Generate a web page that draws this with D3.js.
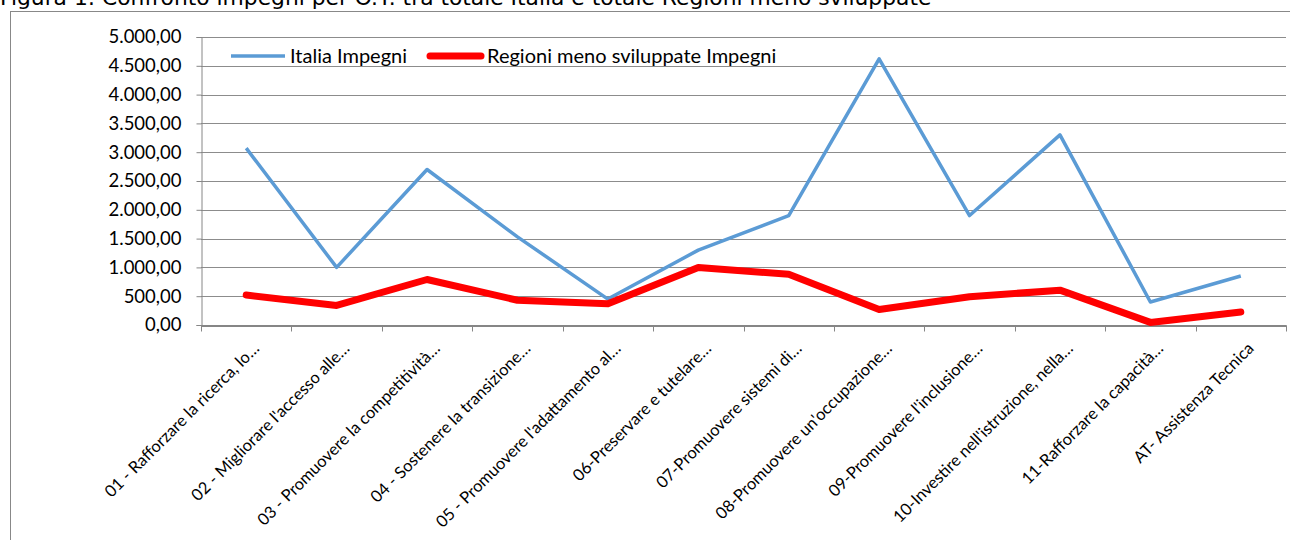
<!DOCTYPE html>
<html>
<head>
<meta charset="utf-8">
<script src="https://cdn.jsdelivr.net/npm/d3@7"></script>
<style>
  body { margin: 0; background: #fff; }
  svg { display: block; }
  .axis path, .axis line { stroke: #868686; }
  .axis text { font-family: Lato, "Open Sans", sans-serif; fill: #000; }
</style>
</head>
<body>
<div id="chart"></div>
<script>
const categories = [
  "01 - Rafforzare la ricerca, lo…",
  "02 - Migliorare l'accesso alle…",
  "03 - Promuovere la competitività…",
  "04 - Sostenere la transizione…",
  "05 - Promuovere l'adattamento al…",
  "06-Preservare e tutelare…",
  "07-Promuovere sistemi di…",
  "08-Promuovere un'occupazione…",
  "09-Promuovere l'inclusione…",
  "10-Investire nell'istruzione, nella…",
  "11-Rafforzare la capacità…",
  "AT- Assistenza Tecnica"
];
const italia = [3070, 1000, 2700, 1530, 450, 1300, 1900, 4620, 1900, 3300, 400, 850];
const regioni = [520, 340, 790, 430, 370, 1000, 880, 270, 490, 605, 45, 225];
const yTicks = [0, 500, 1000, 1500, 2000, 2500, 3000, 3500, 4000, 4500, 5000];
const seriesNames = ["Italia Impegni", "Regioni meno sviluppate Impegni"];
const title = "Figura 1: Confronto impegni per O.T. tra totale Italia e totale Regioni meno sviluppate";

const W = 1290, H = 540;
const svg = d3.select('#chart').append('svg').attr('width', W).attr('height', H);

// title (its top is cut off in the source picture)
svg.append('text')
  .attr('x', 0).attr('y', 5)
  .attr('font-family', '"DejaVu Sans", Verdana, sans-serif')
  .attr('font-size', 21.8)
  .text(title);

// chart frame
svg.append('rect')
  .attr('x', 10.5).attr('y', 11.5)
  .attr('width', W).attr('height', H)
  .attr('fill', 'none').attr('stroke', '#888');

const plotL = 201, plotR = 1286, plotT = 37, plotB = 325;
const x = d3.scaleBand().domain(categories).range([plotL, plotR]);
const y = d3.scaleLinear().domain([0, 5000]).range([plotB, plotT]);
const fmt = d3.formatLocale({ decimal: ',', thousands: '.', grouping: [3], currency: ['€', ''] }).format(',.2f');

// gridlines
svg.append('g').selectAll('line').data(yTicks.filter(d => d > 0)).join('line')
  .attr('x1', plotL).attr('x2', plotR)
  .attr('y1', d => Math.round(y(d)) + 0.5).attr('y2', d => Math.round(y(d)) + 0.5)
  .attr('stroke', '#8c8c8c');

// y axis
const yAxis = svg.append('g').attr('class', 'axis')
  .attr('transform', `translate(${plotL + 0.5},0)`)
  .call(d3.axisLeft(y).tickValues(yTicks).tickFormat(fmt).tickSize(5).tickPadding(15));
yAxis.selectAll('text').attr('font-size', 18.5);

// x axis, ticks at band edges
const xAxis = svg.append('g').attr('class', 'axis')
  .attr('transform', `translate(0,${plotB + 0.5})`)
  .call(d3.axisBottom(x).tickSize(0).tickFormat(''));
xAxis.select('.domain').attr('stroke-width', 2);
const edges = categories.map(c => x(c)).concat([plotR]);
xAxis.selectAll('.edge').data(edges).join('line')
  .attr('class', 'edge')
  .attr('x1', d => Math.round(d) + 0.5).attr('x2', d => Math.round(d) + 0.5)
  .attr('y1', 0).attr('y2', 6)
  .attr('stroke', '#868686');

xAxis.selectAll('.cat').data(categories).join('text')
  .attr('class', 'cat')
  .attr('text-anchor', 'end')
  .attr('font-size', 16.5)
  .attr('transform', d => `translate(${x(d) + x.bandwidth() / 2 + 14},${24}) rotate(-45)`)
  .text(d => d);

// series lines
const cx = d => x(d) + x.bandwidth() / 2;
const line = vals => d3.line().x((v, i) => cx(categories[i])).y(v => y(v))(vals);

svg.append('path')
  .attr('d', line(italia))
  .attr('fill', 'none').attr('stroke', '#5b9bd5')
  .attr('stroke-width', 3.5).attr('stroke-linejoin', 'round');

svg.append('path')
  .attr('d', line(regioni))
  .attr('fill', 'none').attr('stroke', '#ff0000')
  .attr('stroke-width', 7).attr('stroke-linejoin', 'round').attr('stroke-linecap', 'round');

// legend
const legend = svg.append('g').attr('font-family', 'Lato, "Open Sans", sans-serif').attr('font-size', 20);
legend.append('line').attr('x1', 231).attr('x2', 285).attr('y1', 56).attr('y2', 56)
  .attr('stroke', '#5b9bd5').attr('stroke-width', 3.5);
legend.append('text').attr('x', 290).attr('y', 63).text(seriesNames[0]);
legend.append('line').attr('x1', 430).attr('x2', 481).attr('y1', 56).attr('y2', 56)
  .attr('stroke', '#ff0000').attr('stroke-width', 7).attr('stroke-linecap', 'round');
legend.append('text').attr('x', 487).attr('y', 63).text(seriesNames[1]);
</script>
</body>
</html>
